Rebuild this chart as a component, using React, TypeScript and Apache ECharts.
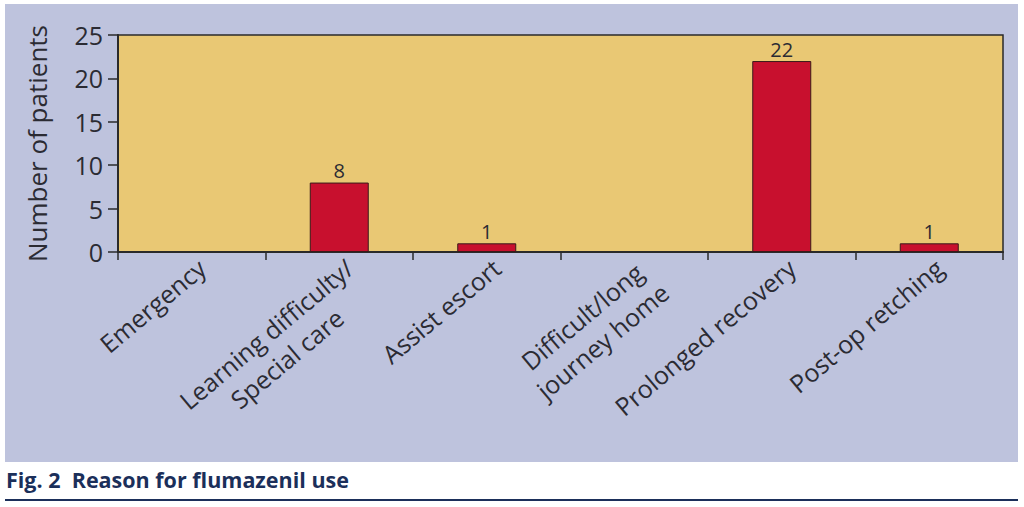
import React, { useEffect, useRef } from "react";
import * as echarts from "echarts";

const categories = [
  "Emergency",
  "Learning difficulty/\nSpecial care",
  "Assist escort",
  "Difficult/long\njourney home",
  "Prolonged recovery",
  "Post-op retching",
];
const patients = [0, 8, 1, 0, 22, 1];
const yTicks = [0, 5, 10, 15, 20, 25];
const yAxisTitle = "Number of patients";
const caption = "Fig. 2  Reason for flumazenil use";

const FONT = "'Open Sans', 'Noto Sans', sans-serif";

export default function App() {
  const ref = useRef<HTMLDivElement>(null);
  useEffect(() => {
    document.body.style.margin = "0";
    const chart = echarts.init(ref.current!, null, { renderer: "svg" });
    chart.setOption({
      animation: false,
      backgroundColor: "#ffffff",
      graphic: [
        {
          type: "rect",
          z: -10,
          shape: { x: 5, y: 4, width: 1013, height: 458 },
          style: { fill: "#bec3dd" },
        },
        {
          type: "text",
          x: 6,
          y: 479,
          style: {
            text: caption,
            fill: "#1b2f5a",
            font: "bold 21.5px 'Open Sans', 'Noto Sans', sans-serif",
            textVerticalAlign: "middle",
          },
        },
        {
          type: "line",
          shape: { x1: 5, y1: 500, x2: 1018, y2: 500 },
          style: { stroke: "#1b2f5a", lineWidth: 2 },
        },
      ],
      grid: [
        {
          left: 118,
          right: 21,
          top: 35,
          bottom: 255,
          show: true,
          backgroundColor: "#e9c874",
          borderColor: "#2a2a2a",
          borderWidth: 1.5,
        },
        {
          left: 128,
          right: 11,
          top: 37,
          bottom: 253,
          show: false,
        },
      ],
      xAxis: [
        {
          type: "category",
          gridIndex: 0,
          data: categories,
          axisLine: { lineStyle: { color: "#2a2a2a", width: 2 } },
          axisTick: {
            show: true,
            length: 8,
            alignWithLabel: false,
            lineStyle: { color: "#2a2a2a", width: 1.5 },
          },
          axisLabel: { show: false },
        },
        {
          type: "category",
          gridIndex: 1,
          data: categories,
          axisLine: { show: false },
          axisTick: { show: false },
          axisLabel: {
            rotate: 40,
            margin: 10,
            interval: 0,
            color: "#2b2b33",
            fontFamily: FONT,
            fontSize: 25,
            lineHeight: 32,
            formatter: (v: string) => {
              const lines = v.split("\n");
              const parts = lines.map((s) => "{c|" + s + "}");
              if (lines.length > 1) parts.unshift("{c| }");
              return parts.join("\n");
            },
            rich: {
              c: {
                align: "center",
                fontFamily: FONT,
                fontSize: 25,
                color: "#2b2b33",
                lineHeight: 32,
              },
            },
          },
        },
      ],
      yAxis: [
        {
          type: "value",
          gridIndex: 0,
          min: 0,
          max: 25,
          interval: 5,
          name: yAxisTitle,
          nameLocation: "middle",
          nameGap: 68,
          nameTextStyle: {
            color: "#2b2b33",
            fontFamily: FONT,
            fontSize: 26,
          },
          axisLine: { show: true, lineStyle: { color: "#2a2a2a", width: 2 } },
          axisTick: {
            show: true,
            length: 10,
            lineStyle: { color: "#2a2a2a", width: 1.5 },
          },
          axisLabel: {
            color: "#2b2b33",
            fontFamily: FONT,
            fontSize: 25,
            margin: 15,
            formatter: (v: number) => (yTicks.includes(v) ? String(v) : ""),
          },
          splitLine: { show: false },
        },
        {
          type: "value",
          gridIndex: 1,
          min: 0,
          max: 25,
          show: false,
        },
      ],
      series: [
        {
          type: "bar",
          xAxisIndex: 0,
          yAxisIndex: 0,
          data: patients.map((v) => (v === 0 ? null : v)),
          barWidth: "40%",
          itemStyle: {
            color: "#c8102e",
            borderColor: "#3a1a1a",
            borderWidth: 1,
          },
          label: {
            show: true,
            position: "top",
            distance: 2,
            color: "#2b2b33",
            fontFamily: FONT,
            fontSize: 20,
          },
        },
      ],
    });
    return () => chart.dispose();
  }, []);
  return <div ref={ref} style={{ width: 1024, height: 507 }} />;
}
